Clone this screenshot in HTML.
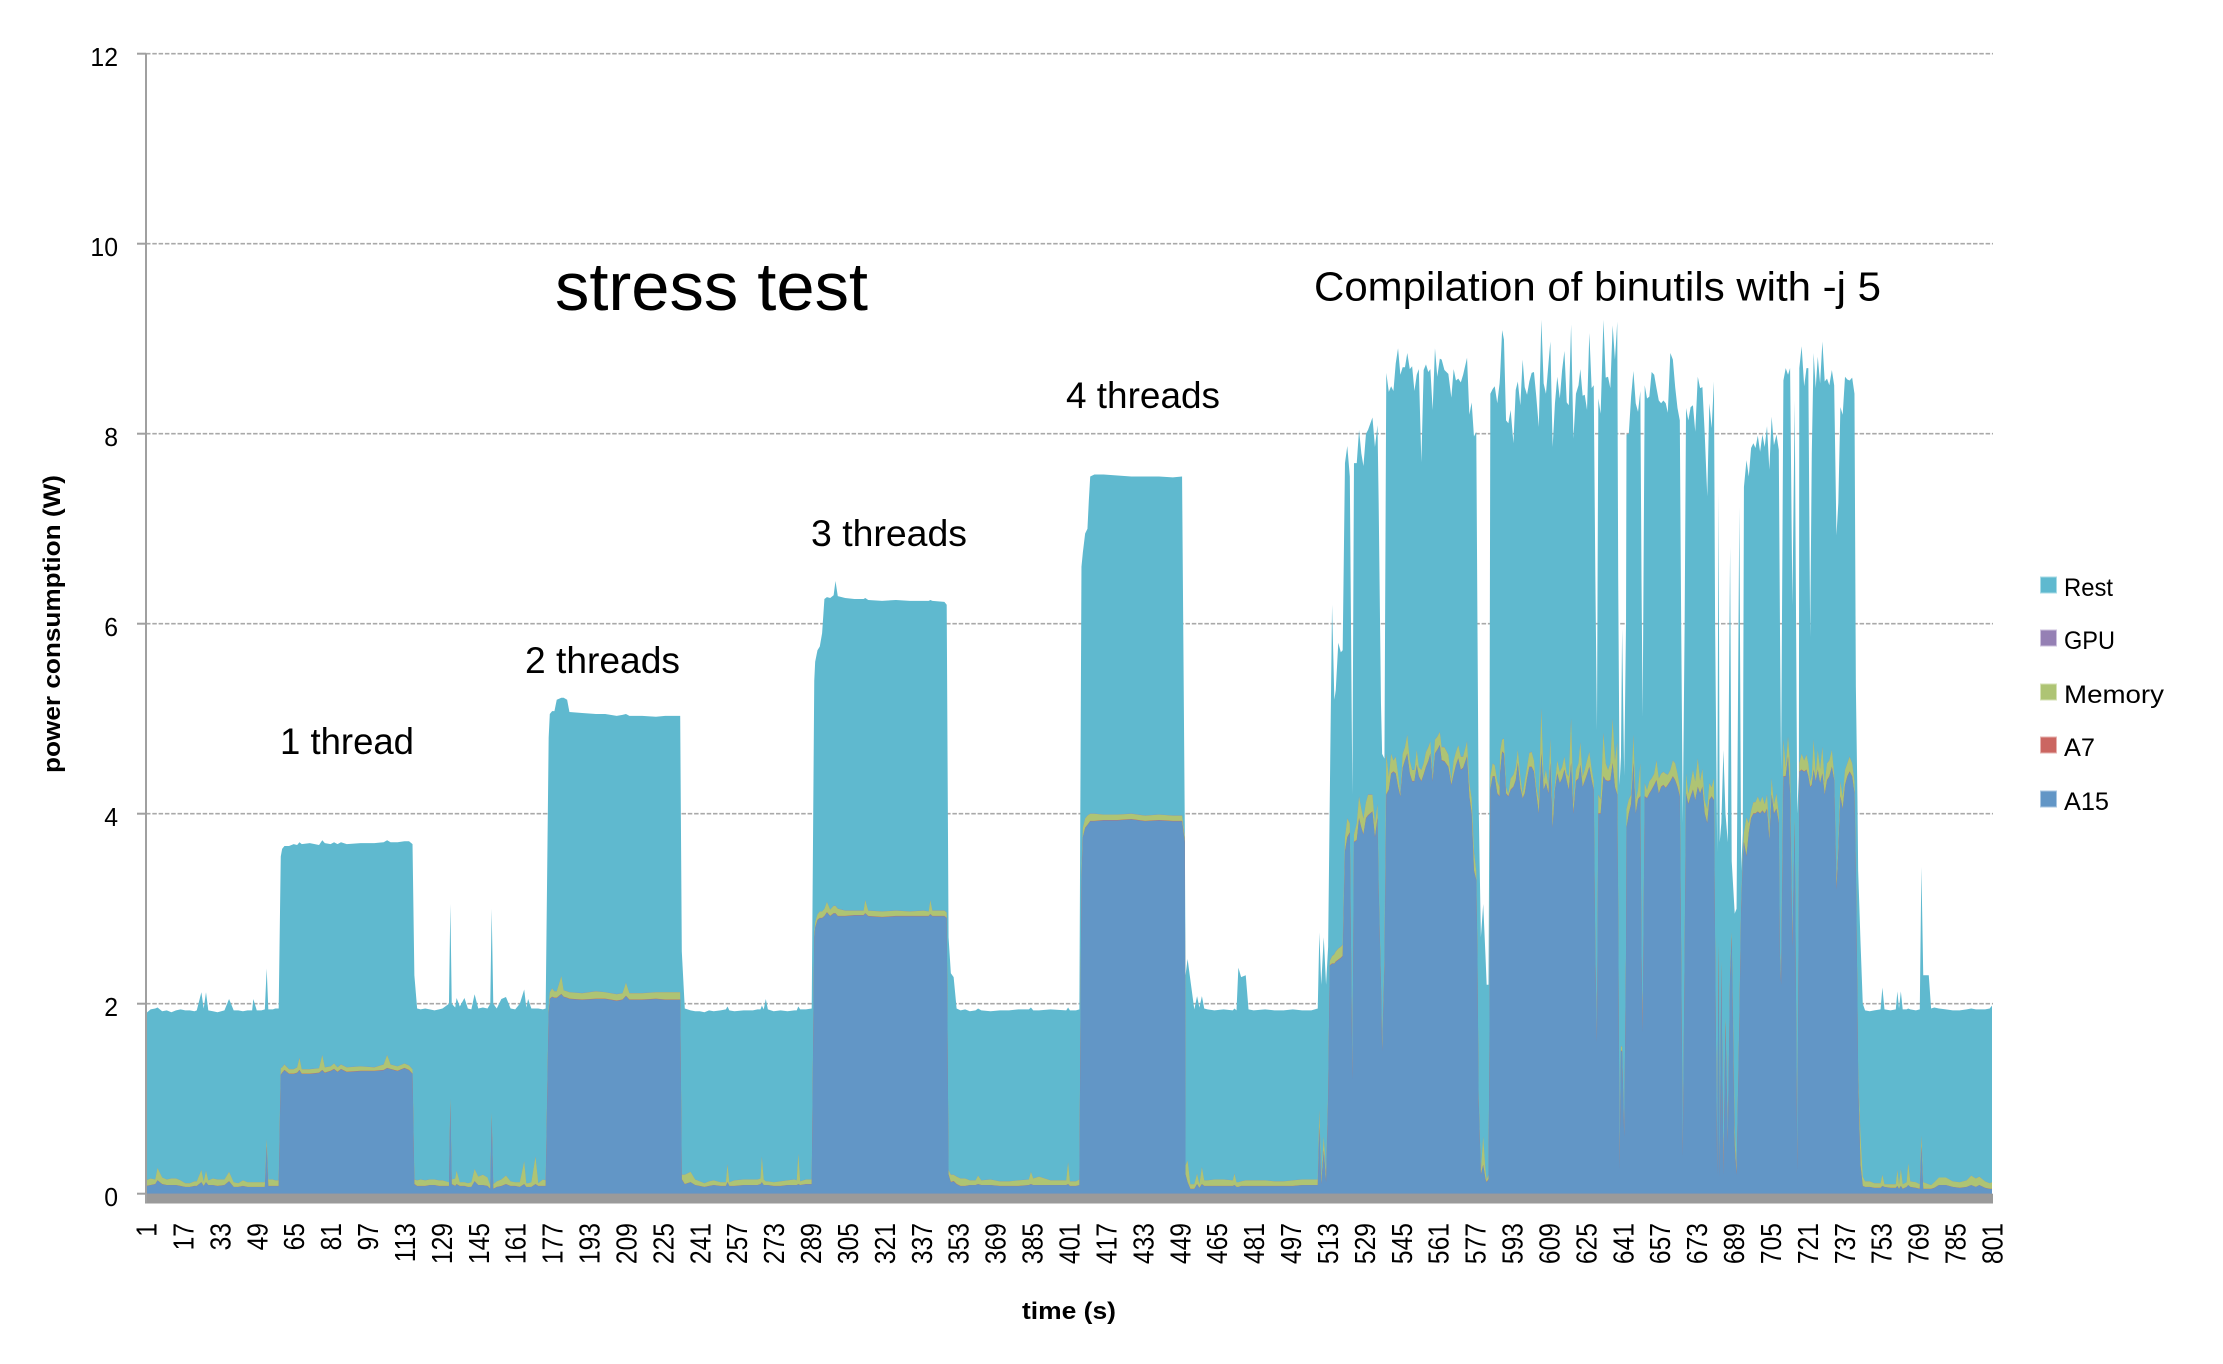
<!DOCTYPE html>
<html lang="en">
<head>
<meta charset="utf-8">
<title>Power consumption stress test</title>
<style>
html,body{margin:0;padding:0;background:#fff;}
svg{display:block;}
text{font-family:"Liberation Sans",sans-serif;fill:#000;}
</style>
</head>
<body>
<svg id="chart" xmlns="http://www.w3.org/2000/svg" width="2223" height="1364" viewBox="0 0 2223 1364">
  <rect x="0" y="0" width="2223" height="1364" fill="#fff"/>
  <g id="grid"></g>
  <g id="areas"></g>
  <g id="axes"></g>
  <g id="yLabels"></g>
  <g id="xLabels"></g>

  <text transform="translate(60,624) rotate(-90)" text-anchor="middle" font-size="24" font-weight="bold" textLength="298" lengthAdjust="spacingAndGlyphs">power consumption (W)</text>
  <text x="1069" y="1319" text-anchor="middle" font-size="24" font-weight="bold" textLength="94" lengthAdjust="spacingAndGlyphs">time (s)</text>

  <text x="555" y="310" font-size="68" textLength="313" lengthAdjust="spacingAndGlyphs">stress test</text>
  <text x="1314" y="300.5" font-size="41" textLength="567" lengthAdjust="spacingAndGlyphs">Compilation of binutils with -j 5</text>
  <text x="1066" y="408" font-size="37" textLength="154" lengthAdjust="spacingAndGlyphs">4 threads</text>
  <text x="811" y="546" font-size="37" textLength="156" lengthAdjust="spacingAndGlyphs">3 threads</text>
  <text x="525" y="673" font-size="37" textLength="155" lengthAdjust="spacingAndGlyphs">2 threads</text>
  <text x="280" y="754" font-size="37" textLength="134" lengthAdjust="spacingAndGlyphs">1 thread</text>

  <g>
    <g>
      <rect x="2040.5" y="577" width="16" height="16" fill="#5fb9cf" stroke="#a9dbe6" stroke-width="1"/>
      <text x="2064" y="596" font-size="25" textLength="49" lengthAdjust="spacingAndGlyphs">Rest</text>
    </g>
    <g>
      <rect x="2040.5" y="630" width="16" height="16" fill="#9580b4" stroke="#cdc2dd" stroke-width="1"/>
      <text x="2064" y="649" font-size="25" textLength="51" lengthAdjust="spacingAndGlyphs">GPU</text>
    </g>
    <g>
      <rect x="2040.5" y="684" width="16" height="16" fill="#aec474" stroke="#d6e2b5" stroke-width="1"/>
      <text x="2064" y="703" font-size="25" textLength="100" lengthAdjust="spacingAndGlyphs">Memory</text>
    </g>
    <g>
      <rect x="2040.5" y="737" width="16" height="16" fill="#cb6661" stroke="#e6b2af" stroke-width="1"/>
      <text x="2064" y="756" font-size="25" textLength="31" lengthAdjust="spacingAndGlyphs">A7</text>
    </g>
    <g>
      <rect x="2040.5" y="791" width="16" height="16" fill="#6296c6" stroke="#aac7e2" stroke-width="1"/>
      <text x="2064" y="810" font-size="25" textLength="45" lengthAdjust="spacingAndGlyphs">A15</text>
    </g>
  </g>
</svg>

<script>
// Sample times (s).
const seconds = [
1,3,5,6,8,10,12,14,16,18,
20,22,23,25,26,27,28,30,32,35,
37,39,41,43,45,47,47.5,49,51,52.5,
53.3,54,56,57,58.5,59.4,60,61,63,65,
66.5,67.5,68.5,72,76,77.4,78.5,81,82.5,84,
85.5,88,94,100,104,105.5,107,110,113,115,
116.5,117.3,118.5,120,122,124,126,128,129.5,132.3,
132.9,133.5,135,135.6,137,139,140.5,142,143.4,145,
147,149,150.2,150.8,151.5,153,155,157,159,161,
163,164.9,165.8,166.6,168,169.8,171,173,174.2,175.5,
176,177,178,179,181,182,183.5,184.5,190,196,
200,205,207.5,209,210.5,216,222,226,232.5,233.2,
234.5,237,239,241,243,245,247,250,252.3,253,
253.8,256,260,264,266,267.3,267.9,268.7,269.6,270.5,
273,276,279,282,283,283.7,284.5,287,289.5,290.6,
291,292,293,294,295,296.1,297.5,299,299.8,300.8,
304,308,312,312.7,314,320,326,332,338,340.2,
340.9,341.8,347,348,348.8,349.8,351,352.3,354,356,
358,360.5,361.6,363,367,371,375,379,383.6,384.5,
385.5,388,393,399.8,400.6,401.4,404,405.5,406.4,407,
408,409,409.6,410.2,412,416,422,428,434,440,
446,450,451.2,451.5,452.4,453.6,455.3,456.5,457.5,458.6,
459.6,461,464,468,472,472.7,473.6,474.4,475.6,477.6,
478.8,481,486,490,494,498,502,506,508.8,509.5,
510.3,511.4,512.4,513.3,514,515,516,516.6,517.7,518.8,
519.6,520.6,521.6,522.7,523.8,524.5,525.7,526.7,527.7,528.6,
529.7,530.6,532.5,533.6,534.7,535.2,536.2,536.7,537.7,538.5,
539.6,540.6,541.6,542.6,543.6,544.6,545.6,546.6,547.6,548.7,
549.7,550.7,551.7,552.6,553.7,554.7,555.7,556.7,557.6,558.6,
559.6,560.6,561.7,562.5,563.7,565.4,566.7,567.7,568.7,569.7,
570.8,571.8,573.5,574.5,575.5,576.5,577.5,578,578.5,579.5,
580.5,581.5,582,582.8,583.2,583.6,584.6,585.5,586.6,587.6,
587.8,588.7,589.5,590.4,591.4,592.4,593.6,594.6,595.5,596.6,
597.6,598.5,599.5,600.5,601.5,602.5,603.5,604.6,605.7,606.7,
607.7,608.8,609.6,610.6,611.6,612.6,613.7,614.7,615.7,616.7,
617.6,618.6,619.6,620.7,621.8,622.6,623.6,624.5,625.5,626.5,
627.5,628.4,629.1,629.8,630.4,631.4,632.6,633.6,634.6,635.6,
636.6,637.6,638.6,639,639.6,640.2,640.7,641.6,642.4,642.6,
643.6,644.6,645.6,646.6,647.6,648.6,649.1,649.6,650.5,651.5,
652.5,653.5,654.6,655.6,656.6,657.6,658.6,659.6,660.5,661.6,
662.7,663.7,664.7,665.7,666.3,667,667.8,668.4,669.4,670.4,
671.4,672.4,673.5,674.5,675.5,676.5,677.6,678.5,679.5,680.5,
681,681.9,682.5,683,683.7,684.6,685.5,686.5,687.5,688.2,
689.5,690.3,691.5,692.3,693,693.5,694.6,695.6,696.6,697.6,
698.5,699.5,700.5,701.5,702.5,703.5,704.5,705.5,706.5,707.6,
708.6,709.1,709.6,710.6,711.6,712.6,713.5,714.5,715.5,716.6,
717.3,717.5,718.5,719.6,720.6,721.4,722.2,722.9,723.7,724.6,
725.5,726.5,727.5,728.5,729.5,730.5,731.6,732.6,733.6,734.4,
735.3,736.3,737.3,738.3,739.3,740.4,741.4,742,742.7,743,
744,745,746,748,750,752.7,753.5,754.4,757,759.3,
760,760.7,761.5,762.3,764,764.7,765.6,768,769.7,770.4,
771.2,773.6,774.6,776,778,781,784,787,790,792,
794,795.5,798,800,801
];

// A15 power (W), the bottom band of the stack.
const a15Watts = [
.08,.09,.1,.14,.1,.09,.09,.09,.08,.07,
.07,.08,.08,.12,.08,.12,.09,.09,.08,.09,
.13,.07,.07,.08,.07,.07,.07,.07,.07,.07,
.5,.08,.08,.08,.08,1.25,1.27,1.3,1.26,1.26,
1.27,1.3,1.26,1.26,1.27,1.3,1.27,1.29,1.31,1.28,
1.31,1.28,1.29,1.29,1.3,1.32,1.31,1.29,1.32,1.3,
1.26,.1,.08,.08,.08,.09,.09,.08,.08,.08,
.95,.1,.08,.1,.08,.08,.07,.07,.13,.09,
.09,.08,.05,.8,.05,.07,.08,.1,.08,.08,
.07,.1,.07,.07,.07,.1,.08,.08,.08,1.9,
2.05,2.07,2.06,2.06,2.1,2.07,2.06,2.05,2.04,2.05,
2.05,2.03,2.04,2.08,2.04,2.04,2.05,2.04,2.04,.15,
.1,.12,.09,.08,.07,.08,.09,.08,.08,.12,
.08,.08,.09,.09,.09,.1,.12,.09,.09,.09,
.08,.08,.09,.09,.09,.1,.09,.1,.1,2.7,
2.8,2.88,2.9,2.9,2.92,2.96,2.92,2.95,2.95,2.92,
2.92,2.93,2.93,2.95,2.92,2.91,2.92,2.92,2.92,2.92,
2.94,2.92,2.92,2.9,.2,.12,.13,.1,.08,.08,
.09,.09,.1,.09,.09,.08,.08,.08,.09,.1,
.09,.09,.09,.09,.1,.08,.08,.09,3.3,3.75,
3.85,3.88,3.9,3.92,3.92,3.93,3.93,3.94,3.92,3.93,
3.92,3.92,3.7,.2,.12,.05,.05,.1,.06,.1,
.08,.08,.08,.08,.08,.09,.07,.07,.08,.08,
.08,.08,.08,.08,.08,.08,.09,.09,.09,.7,
.1,.45,.12,1.0,2.4,2.42,2.42,2.44,2.46,2.48,
2.5,3.6,3.75,3.8,1.2,3.7,3.72,3.95,3.85,3.78,
3.95,3.98,4.02,3.75,3.95,3.2,2.2,1.5,2.4,4.2,
4.25,4.42,4.44,4.42,4.28,4.18,4.48,4.56,4.63,4.42,
4.34,4.34,4.51,4.39,4.34,4.41,4.49,4.55,4.63,4.34,
4.63,4.67,4.72,4.56,4.55,4.49,4.3,4.41,4.51,4.58,
4.46,4.48,4.6,4.18,4.0,3.4,3.3,2.5,1.0,.2,
.3,.15,.12,.15,1.5,4.25,4.39,4.39,4.21,4.18,
4.42,4.65,4.63,4.21,4.18,4.25,4.28,4.35,4.53,4.27,
4.16,4.21,4.37,4.49,4.49,4.44,4.21,4.0,4.63,4.25,
4.32,4.21,4.53,3.85,4.25,4.42,4.32,4.37,4.46,4.34,
4.25,4.53,4.0,4.34,4.37,4.51,4.28,4.34,4.41,4.49,
4.35,4.25,2.5,1.6,4.0,4.0,4.39,4.35,4.34,4.35,
4.53,4.28,4.2,3.0,.27,1.5,1.5,.6,2.5,3.85,
4.0,4.1,4.53,4.0,4.15,4.18,2.5,1.7,4.18,4.16,
4.21,4.25,4.3,4.35,4.21,4.28,4.3,4.27,4.3,4.34,
4.39,4.35,4.28,4.18,2.5,.4,2.5,4.21,4.1,4.18,
4.25,4.14,4.28,4.21,4.28,4.0,3.9,4.14,4.18,4.14,
2.6,.2,2.6,.18,2.4,.2,1.8,.55,2.3,2.7,
.5,.2,1.8,3.0,3.5,3.7,3.55,3.8,3.95,4.0,
4.0,4.02,4.0,4.03,4.0,4.05,3.72,4.2,4.0,4.05,
3.9,2.5,2.2,4.39,4.39,4.6,4.21,2.6,3.9,.25,
3.2,4.44,4.46,4.44,4.46,4.39,4.28,4.3,4.46,4.34,
4.46,4.32,4.42,4.2,4.35,4.39,4.49,4.35,3.2,3.6,
4.18,4.05,4.3,4.39,4.44,4.39,4.21,3.4,2.0,1.2,
.3,.08,.07,.07,.06,.06,.08,.07,.06,.06,
.08,.05,.08,.05,.07,.09,.07,.06,.05,.5,
.05,.05,.05,.06,.09,.09,.07,.06,.07,.09,
.07,.09,.06,.05,.05
];

const memoryLevel = [
.14,.16,.15,.27,.17,.15,.16,.16,.14,.11,
.11,.13,.13,.25,.13,.24,.14,.16,.15,.15,
.23,.12,.11,.14,.12,.12,.12,.12,.12,.12,
.57,.15,.15,.14,.14,1.32,1.33,1.36,1.31,1.31,
1.33,1.43,1.31,1.31,1.32,1.46,1.33,1.34,1.37,1.33,
1.36,1.33,1.34,1.33,1.36,1.46,1.36,1.34,1.37,1.35,
1.31,.15,.14,.15,.14,.15,.15,.14,.14,.12,
1.0,.15,.16,.24,.12,.12,.11,.12,.26,.18,
.2,.17,.09,.85,.1,.13,.15,.19,.13,.12,
.12,.34,.11,.11,.12,.39,.11,.15,.14,1.96,
2.12,2.16,2.13,2.13,2.29,2.14,2.13,2.12,2.11,2.13,
2.12,2.1,2.11,2.22,2.11,2.11,2.12,2.12,2.12,.2,
.2,.23,.15,.13,.11,.13,.14,.12,.12,.31,
.12,.14,.15,.15,.15,.16,.39,.15,.13,.13,
.12,.13,.14,.15,.14,.42,.13,.15,.15,2.75,
2.86,2.94,2.97,2.97,3.0,3.07,2.99,3.03,3.03,3.0,
2.98,2.98,2.98,3.09,2.98,2.97,2.98,2.97,2.98,2.97,
3.09,2.98,2.98,2.96,.25,.2,.2,.18,.16,.16,
.14,.14,.19,.14,.15,.13,.13,.14,.15,.23,
.16,.18,.14,.14,.33,.13,.13,.15,3.4,3.85,
3.95,3.98,3.99,4.0,4.0,3.99,3.99,4.0,3.98,3.99,
3.98,3.98,3.75,.3,.35,.1,.1,.21,.1,.28,
.14,.14,.15,.15,.14,.21,.12,.12,.13,.14,
.14,.14,.14,.13,.13,.14,.15,.15,.15,.88,
.16,.6,.2,1.05,2.45,2.5,2.52,2.55,2.58,2.6,
2.62,3.75,3.95,3.9,1.25,3.78,3.9,4.18,4.05,3.95,
4.12,4.2,4.2,3.9,4.1,3.25,2.25,1.6,2.5,4.63,
4.39,4.63,4.56,4.6,4.42,4.21,4.63,4.7,4.83,4.56,
4.46,4.46,4.67,4.49,4.46,4.53,4.65,4.7,4.76,4.39,
4.78,4.81,4.86,4.7,4.7,4.62,4.35,4.56,4.65,4.72,
4.6,4.6,4.76,4.32,4.16,3.6,3.4,2.55,1.05,.25,
.6,.25,.15,.2,1.55,4.39,4.53,4.51,4.34,4.28,
4.65,4.78,4.79,4.28,4.21,4.37,4.41,4.49,4.67,4.39,
4.21,4.34,4.49,4.64,4.65,4.56,4.28,4.14,5.11,4.35,
4.46,4.28,4.79,4.0,4.32,4.56,4.44,4.49,4.6,4.42,
4.39,5.0,4.1,4.46,4.53,4.75,4.39,4.46,4.56,4.65,
4.47,4.34,2.55,1.65,4.2,4.15,4.85,4.53,4.46,4.53,
5.0,4.56,4.75,3.05,.3,1.55,1.55,.65,2.55,4.05,
4.15,4.2,4.83,4.14,4.25,4.53,2.55,1.75,4.32,4.25,
4.34,4.37,4.42,4.56,4.37,4.42,4.44,4.42,4.41,4.46,
4.56,4.53,4.42,4.28,2.55,.45,2.55,4.42,4.21,4.32,
4.46,4.34,4.58,4.35,4.47,4.14,4.05,4.32,4.28,4.37,
2.65,.22,2.65,.2,2.45,.25,1.85,.6,2.35,2.75,
.72,.25,1.85,3.05,3.55,3.8,3.96,3.9,4.03,4.12,
4.12,4.18,4.12,4.18,4.1,4.2,3.82,4.37,4.1,4.21,
4.0,2.55,2.25,4.78,4.49,4.81,4.53,2.65,3.95,.3,
3.25,4.53,4.63,4.56,4.62,4.53,4.34,4.4,4.78,4.42,
4.67,4.47,4.7,4.32,4.53,4.56,4.67,4.42,3.3,3.7,
4.34,4.18,4.46,4.53,4.6,4.53,4.34,3.45,2.05,1.25,
.62,.18,.13,.13,.11,.11,.2,.1,.1,.1,
.25,.1,.26,.1,.12,.32,.13,.12,.1,.61,
.12,.1,.09,.12,.17,.17,.13,.12,.14,.19,
.16,.18,.13,.11,.12
];

// Total power (W): the top edge of the Rest band.
const totalPower = [
1.9,1.94,1.95,1.96,1.92,1.93,1.91,1.93,1.94,1.93,
1.93,1.92,1.93,2.12,1.95,2.12,1.93,1.92,1.91,1.93,
2.05,1.93,1.93,1.92,1.93,1.93,2.05,1.93,1.93,1.94,
2.37,1.94,1.94,1.95,1.95,3.55,3.63,3.66,3.66,3.68,
3.67,3.7,3.68,3.69,3.67,3.72,3.69,3.68,3.7,3.68,
3.7,3.68,3.69,3.69,3.7,3.72,3.7,3.7,3.71,3.71,
3.68,2.3,1.95,1.94,1.95,1.94,1.93,1.94,1.95,2.0,
3.05,2.0,1.96,2.06,1.97,2.06,1.95,1.94,2.1,1.95,
1.96,1.95,2.0,3.0,2.0,1.95,2.05,2.07,1.95,1.94,
2.0,2.15,1.96,2.05,1.95,1.95,1.95,1.94,1.95,4.8,
5.05,5.08,5.08,5.2,5.22,5.22,5.2,5.07,5.06,5.05,
5.05,5.03,5.04,5.05,5.03,5.03,5.02,5.03,5.03,2.55,
1.95,1.93,1.92,1.92,1.91,1.93,1.92,1.93,1.94,1.97,
1.93,1.92,1.93,1.93,1.94,1.94,1.98,1.94,2.05,1.94,
1.92,1.93,1.92,1.93,1.93,1.97,1.94,1.94,1.95,5.4,
5.6,5.72,5.76,5.9,6.26,6.28,6.27,6.3,6.45,6.29,
6.27,6.26,6.26,6.27,6.25,6.24,6.25,6.24,6.24,6.24,
6.25,6.24,6.23,6.2,2.7,2.32,2.28,1.95,1.93,1.94,
1.92,1.93,1.95,1.93,1.92,1.93,1.93,1.94,1.94,1.96,
1.93,1.93,1.94,1.93,1.96,1.93,1.93,1.94,6.6,6.75,
6.95,7.0,7.3,7.55,7.57,7.57,7.56,7.55,7.55,7.55,
7.54,7.55,3.8,2.3,2.47,2.25,1.94,2.08,1.96,2.08,
1.95,1.94,1.93,1.94,1.93,1.95,1.93,2.38,2.28,2.3,
1.94,1.93,1.94,1.93,1.93,1.94,1.93,1.93,1.95,2.75,
2.2,2.7,2.2,2.6,4.14,6.2,5.2,5.3,5.8,5.7,
5.72,7.69,7.87,7.55,4.2,7.69,7.69,8.04,7.79,7.66,
8.0,8.04,8.17,7.86,8.09,7.27,5.16,4.63,4.58,8.64,
8.44,8.5,8.45,8.74,8.9,8.62,8.7,8.7,8.85,8.68,
8.71,8.45,8.62,8.68,7.7,8.67,8.73,8.65,8.68,8.25,
8.9,8.6,8.79,8.78,8.67,8.63,8.38,8.68,8.56,8.58,
8.54,8.62,8.8,8.2,8.33,7.97,8.02,6.04,4.14,2.7,
3.05,2.5,2.2,2.2,4.2,8.42,8.47,8.5,8.32,8.53,
8.6,9.09,8.99,8.14,8.11,8.25,7.9,8.46,8.55,8.3,
8.78,8.49,8.41,8.55,8.64,8.65,8.39,8.07,9.2,8.53,
8.42,8.74,8.97,7.86,8.32,8.6,8.37,8.67,8.87,8.33,
8.3,9.15,7.95,8.42,8.51,8.68,8.4,8.41,8.25,9.06,
8.48,8.51,6.5,4.88,8.37,8.21,9.2,8.59,8.6,8.48,
9.14,8.78,9.18,6.5,4.3,4.6,5.95,4.4,6.0,7.99,
8.0,8.39,8.66,8.32,8.23,8.45,6.5,5.02,8.51,8.37,
8.39,8.65,8.62,8.48,8.35,8.32,8.35,8.32,8.22,8.85,
8.78,8.49,8.27,8.14,6.0,3.9,6.0,8.27,8.14,8.28,
8.3,8.02,8.6,8.48,8.49,8.0,7.34,8.32,8.06,8.55,
6.0,3.6,7.39,3.7,3.9,4.67,4.0,3.7,6.81,3.5,
2.95,3.0,7.23,3.4,3.8,7.44,7.72,7.55,7.85,7.9,
7.85,7.98,7.81,7.99,7.86,8.08,7.62,8.18,7.88,7.99,
7.83,6.0,4.46,8.56,8.69,8.62,8.69,6.2,8.35,4.0,
4.4,8.69,8.92,8.5,8.69,8.69,5.86,7.79,8.85,8.48,
8.81,8.53,8.97,8.55,8.58,8.51,8.67,8.51,6.93,7.27,
8.28,8.2,8.6,8.57,8.56,8.59,8.42,5.34,4.14,3.4,
2.66,2.0,1.93,1.92,1.93,1.94,2.17,1.94,1.93,1.94,
2.13,1.95,2.13,1.94,1.94,1.95,1.94,1.93,1.94,3.44,
2.3,2.3,1.95,1.96,1.95,1.94,1.93,1.93,1.94,1.95,
1.94,1.94,1.94,1.95,1.98
];

// A7 and GPU are hairline bands; one reading per test phase.
const phaseStarts = [1,59,118,176,234,291,353,407,452,509,745];
const a7ByPhase = [0.002,0.004,0.002,0.004,0.002,0.004,0.002,0.004,0.002,0.005,0.002];
const gpuByPhase = [0.001,0.002,0.001,0.002,0.001,0.002,0.001,0.002,0.001,0.003,0.001];

const yTickLabels = [0,2,4,6,8,10,12];
const xTickLabels = [1,17,33,49,65,81,97,113,129,145,161,177,193,209,225,241,257,273,289,305,321,337,353,369,385,401,417,433,449,465,481,497,513,529,545,561,577,593,609,625,641,657,673,689,705,721,737,753,769,785,801];

const SVG_NS = 'http://www.w3.org/2000/svg';
const plotLeft = 146;
const pxPerSecond = 2.3075;
const zeroY = 1193.7;
const pxPerWatt = 95;
function xAt(t) { return plotLeft + (t - 1) * pxPerSecond; }
function yAt(w) { return zeroY - w * pxPerWatt; }
function phaseValue(list, t) {
  let v = list[0];
  for (let i = 0; i < phaseStarts.length; i++) { if (t >= phaseStarts[i]) v = list[i]; }
  return v;
}
function areaPath(levels) {
  const n = Math.min(seconds.length, levels.length);
  let d = 'M' + xAt(seconds[0]).toFixed(2) + ' ' + zeroY;
  for (let i = 0; i < n; i++) {
    d += 'L' + xAt(seconds[i]).toFixed(2) + ' ' + yAt(levels[i]).toFixed(2);
  }
  d += 'L' + xAt(seconds[n - 1]).toFixed(2) + ' ' + zeroY + 'Z';
  return d;
}

const gridGroup = document.getElementById('grid');
const axesGroup = document.getElementById('axes');
const yGroup = document.getElementById('yLabels');
const xGroup = document.getElementById('xLabels');
const areasGroup = document.getElementById('areas');

yTickLabels.forEach(function (v) {
  if (v > 0) {
    const g = document.createElementNS(SVG_NS, 'line');
    
    
    g.setAttribute('x1', plotLeft);
    g.setAttribute('x2', 1993);
    g.setAttribute('y1', yAt(v));
    g.setAttribute('y2', yAt(v));
    g.setAttribute('stroke', '#a9a9a9');
    g.setAttribute('stroke-width', '1.6');
    g.setAttribute('stroke-dasharray', '4.5 1.8');
    gridGroup.appendChild(g);
  }
  const tick = document.createElementNS(SVG_NS, 'line');
  
  
  tick.setAttribute('x1', 137);
  tick.setAttribute('x2', plotLeft);
  tick.setAttribute('y1', yAt(v));
  tick.setAttribute('y2', yAt(v));
  tick.setAttribute('stroke', '#a0a0a0');
  tick.setAttribute('stroke-width', '2');
  axesGroup.appendChild(tick);

  const lab = document.createElementNS(SVG_NS, 'text');
  
  
  lab.setAttribute('x', 118);
  lab.setAttribute('y', yAt(v) + 12.3);
  lab.setAttribute('text-anchor', 'end');
  lab.setAttribute('font-size', '26');
  lab.setAttribute('textLength', String(v).length * 13.8);
  lab.setAttribute('lengthAdjust', 'spacingAndGlyphs');
  lab.textContent = v;
  yGroup.appendChild(lab);
});

const bands = [
  { name: 'area-rest', color: '#5fb9cf', level: function (i, t) { return totalPower[i]; } },
  { name: 'area-gpu', color: '#9580b4', level: function (i, t) { return memoryLevel[i] + phaseValue(gpuByPhase, t); } },
  { name: 'area-memory', color: '#aec474', level: function (i, t) { return memoryLevel[i]; } },
  { name: 'area-a7', color: '#cb6661', level: function (i, t) { return a15Watts[i] + phaseValue(a7ByPhase, t); } },
  { name: 'area-a15', color: '#6296c6', level: function (i, t) { return a15Watts[i]; } }
];
bands.forEach(function (b) {
  const levels = seconds.map(function (t, i) { return b.level(i, t); });
  const p = document.createElementNS(SVG_NS, 'path');
  
  
  p.setAttribute('d', areaPath(levels));
  p.setAttribute('fill', b.color);
  areasGroup.appendChild(p);
});

const band = document.createElementNS(SVG_NS, 'rect');


band.setAttribute('x', plotLeft - 1);
band.setAttribute('y', zeroY);
band.setAttribute('width', 1993 - plotLeft + 1);
band.setAttribute('height', 9.8);
band.setAttribute('fill', '#9a9a9a');
axesGroup.appendChild(band);

const yAxis = document.createElementNS(SVG_NS, 'line');


yAxis.setAttribute('x1', plotLeft);
yAxis.setAttribute('x2', plotLeft);
yAxis.setAttribute('y1', yAt(12));
yAxis.setAttribute('y2', zeroY + 9);
yAxis.setAttribute('stroke', '#a0a0a0');
yAxis.setAttribute('stroke-width', '2');
axesGroup.appendChild(yAxis);

xTickLabels.forEach(function (t) {
  const lab = document.createElementNS(SVG_NS, 'text');
  
  
  lab.setAttribute('transform', 'translate(' + (xAt(t) + 10.5) + ',1223) rotate(-90) scale(0.85,1)');
  lab.setAttribute('text-anchor', 'end');
  lab.setAttribute('font-size', '29');
  lab.textContent = t;
  xGroup.appendChild(lab);
});
</script>
</body>
</html>
